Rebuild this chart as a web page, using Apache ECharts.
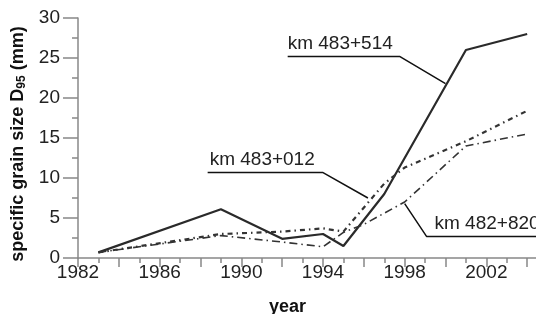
<!DOCTYPE html>
<html>
<head>
<meta charset="utf-8">
<script src="https://cdn.jsdelivr.net/npm/echarts@6/dist/echarts.min.js"></script>
<style>html,body{margin:0;padding:0;background:#fff}#c{width:536px;height:314px}</style>
</head>
<body>
<div id="c"></div>
<script>
// Data (year, D95 in mm)
const km483_514 = [[1983,0.7],[1989,6.1],[1992,2.4],[1994,3.0],[1995,1.5],[1997,8.0],[2001,26.0],[2004,28.0]];
const km483_012 = [[1983,0.7],[1989,3.0],[1992,3.3],[1994,3.7],[1995,3.3],[1997,9.3],[1998,11.3],[2001,14.6],[2004,18.4]];
const km482_820 = [[1983,0.7],[1989,2.8],[1992,2.0],[1994,1.4],[1995,3.2],[1996,4.2],[1998,7.0],[2001,14.0],[2004,15.5]];
// Leader lines for the series labels (data coordinates)
const lead514 = [[1992.27,25.2],[1997.75,25.2],[2000.0,21.8]];
const lead012 = [[1988.35,10.7],[1993.98,10.7],[1996.2,7.5]];
const lead820 = [[1998.0,6.8],[1999.07,2.7],[2006,2.7]];
const seriesNames = ['km 483+514','km 483+012','km 482+820'];
const xTickLabels = [1982,1986,1990,1994,1998,2002];

const FONT = '"Liberation Sans", Arial, sans-serif';
const chart = echarts.init(document.getElementById('c'));

function leader(data, text, idx, padLeft) {
  return {
    type: 'line', data: data, symbol: 'circle', symbolSize: 1, showSymbol: true, silent: true,
    itemStyle: {color: 'rgba(0,0,0,0)'},
    lineStyle: {color: '#111', width: 1.5},
    labelLayout: {hideOverlap: false},
    label: {
      show: true, position: 'top', align: 'left', distance: 3, padding: [0, 0, 0, padLeft],
      fontFamily: FONT, fontSize: 19, color: '#222',
      formatter: p => p.dataIndex === idx ? text : ''
    },
    z: 3
  };
}

chart.setOption({
  animation: false,
  grid: {left: 78, top: 18, bottom: 56, right: -32, containLabel: false, outerBoundsMode: 'none'},
  xAxis: {
    type: 'value', min: 1982, max: 2006, interval: 2,
    name: 'year', nameLocation: 'middle', nameGap: 40,
    nameTextStyle: {fontFamily: FONT, fontSize: 18, fontWeight: 'bold', color: '#111', padding: [0, 71, 0, 0]},
    axisLine: {show: true, lineStyle: {color: '#888', width: 1.5}},
    axisTick: {show: true, length: 9, lineStyle: {color: '#888', width: 1.5}},
    minorTick: {show: true, splitNumber: 2, length: 5, lineStyle: {color: '#888', width: 1.5}},
    splitLine: {show: false},
    axisLabel: {
      fontFamily: FONT, fontSize: 19, color: '#222', margin: 5,
      formatter: v => xTickLabels.indexOf(v) >= 0 ? String(v) : ''
    }
  },
  yAxis: {
    type: 'value', min: 0, max: 30, interval: 5,
    name: 'specific grain size D{sub|95} (mm)', nameLocation: 'middle', nameGap: 46, nameRotate: 90,
    nameTextStyle: {
      fontFamily: FONT, fontSize: 18, fontWeight: 'bold', color: '#111', padding: [0, 12, 0, 0],
      rich: {sub: {fontFamily: FONT, fontSize: 12, fontWeight: 'bold', color: '#111', verticalAlign: 'bottom', padding: [8, 0, 0, 0]}}
    },
    axisLine: {show: true, lineStyle: {color: '#888', width: 1.5}},
    axisTick: {show: true, length: 15, lineStyle: {color: '#888', width: 1.5}},
    minorTick: {show: true, splitNumber: 2, length: 6, lineStyle: {color: '#888', width: 1.5}},
    splitLine: {show: false},
    axisLabel: {fontFamily: FONT, fontSize: 19, color: '#222', margin: 18}
  },
  series: [
    {name: seriesNames[0], type: 'line', data: km483_514, symbol: 'none',
     lineStyle: {color: '#2a2a2a', width: 2.2}, z: 4},
    {name: seriesNames[1], type: 'line', data: km483_012, symbol: 'none',
     lineStyle: {color: '#333', width: 2.2, type: [5, 4, 1.5, 4]}, z: 4},
    {name: seriesNames[2], type: 'line', data: km482_820, symbol: 'none',
     lineStyle: {color: '#333', width: 1.6, type: [8, 4, 1.5, 4]}, z: 4},
    leader(lead514, seriesNames[0], 0, 0),
    leader(lead012, seriesNames[1], 0, 2),
    leader(lead820, seriesNames[2], 1, 8)
  ]
});
</script>
</body>
</html>
